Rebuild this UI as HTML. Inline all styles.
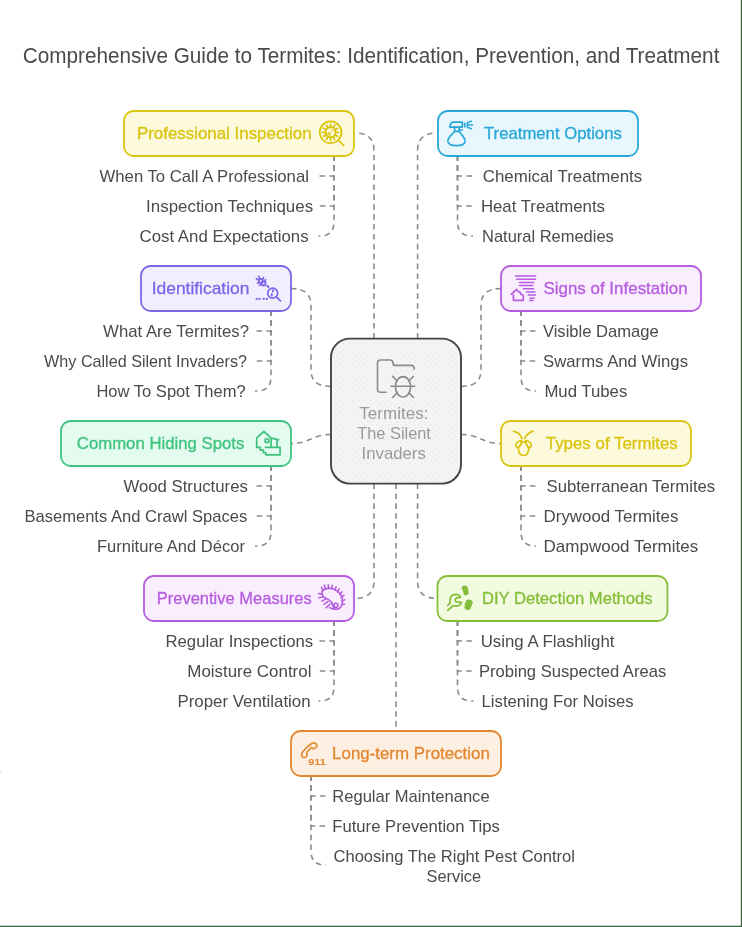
<!DOCTYPE html><html><head><meta charset="utf-8"><style>html,body{margin:0;padding:0;background:#fff;overflow:hidden;width:742px;height:927px;}svg{display:block;will-change:transform;}</style></head><body>
<svg width="742" height="927" viewBox="0 0 742 927" font-family='"Liberation Sans", sans-serif'>
<defs><pattern id="dots" x="0" y="0" width="6" height="6" patternUnits="userSpaceOnUse"><rect width="6" height="6" fill="#f4f4f4"/><circle cx="1.5" cy="1.5" r="0.5" fill="#dedede"/><circle cx="4.5" cy="4.5" r="0.5" fill="#dedede"/></pattern></defs>
<rect x="0" y="0" width="742" height="927" fill="#ffffff"/>
<rect x="740.8" y="0" width="1.2" height="927" fill="#3b6a45"/>
<rect x="0" y="925.7" width="742" height="1.3" fill="#3b6a45"/>
<rect x="0" y="771.8" width="1.1" height="1.4" fill="#cfcfcf"/>
<text x="22.80" y="62.90" textLength="696.60" lengthAdjust="spacingAndGlyphs" font-size="21.8" fill="#4a4a4a" font-weight="normal" >Comprehensive Guide to Termites: Identification, Prevention, and Treatment</text>
<g fill="none" stroke="#8c8c8c" stroke-width="1.6" stroke-dasharray="5.6 4.3">
<path d="M374,338.5 V150 Q374,133 354.5,133"/>
<path d="M417.6,338.5 V150 Q417.6,133 437.5,133"/>
<path d="M331,386.5 Q311,386.5 311,370 V305 Q311,288.5 291,288.5"/>
<path d="M461,386.5 Q481,386.5 481,370 V305 Q481,288.5 501,288.5"/>
<path d="M331,434.5 C311,434.5 311,443.5 291,443.5"/>
<path d="M461,434.5 C481,434.5 481,443.5 501,443.5"/>
<path d="M374,483.5 V581 Q374,598.5 354.5,598.5"/>
<path d="M417.6,483.5 V581 Q417.6,598.5 437.5,598.5"/>
<path d="M396,483.5 V731"/>
<path d="M334,155.2 V176 H318.5"/>
<path d="M334,155.2 V206 H318.5"/>
<path d="M334,155.2 V222 Q334,236 320,236 H318.5"/>
<path d="M457.5,155.2 V176 H473"/>
<path d="M457.5,155.2 V206 H473"/>
<path d="M457.5,155.2 V222 Q457.5,236 471.5,236 H473"/>
<path d="M271,310.2 V331 H255"/>
<path d="M271,310.2 V361 H255"/>
<path d="M271,310.2 V377 Q271,391 257,391 H255"/>
<path d="M521,310.2 V331 H536"/>
<path d="M521,310.2 V361 H536"/>
<path d="M521,310.2 V377 Q521,391 535,391 H536"/>
<path d="M271,465.2 V486 H255"/>
<path d="M271,465.2 V516 H255"/>
<path d="M271,465.2 V532 Q271,546 257,546 H255"/>
<path d="M521,465.2 V486 H536"/>
<path d="M521,465.2 V516 H536"/>
<path d="M521,465.2 V532 Q521,546 535,546 H536"/>
<path d="M334,620.2 V641 H318.5"/>
<path d="M334,620.2 V671 H318.5"/>
<path d="M334,620.2 V687 Q334,701 320,701 H318.5"/>
<path d="M457.5,620.2 V641 H473.5"/>
<path d="M457.5,620.2 V671 H473.5"/>
<path d="M457.5,620.2 V687 Q457.5,701 471.5,701 H473.5"/>
<path d="M311,775.2 V796 H326"/>
<path d="M311,775.2 V826 H326"/>
<path d="M311,775.2 V851 Q311,865 325,865 H326"/>
</g>
<rect x="331" y="338.6" width="130" height="145" rx="19" ry="19" fill="url(#dots)" stroke="#444444" stroke-width="1.9"/>
<g fill="none" stroke="#8c8c8c" stroke-width="1.6" stroke-linecap="round" stroke-linejoin="round"><path d="M386.2,392.2 H380.5 Q377.5,392.2 377.5,389.2 V363 Q377.5,360 380.5,360 H390 Q392.5,360 393,362.5 L393.5,365.4 H411 Q414.1,365.4 414.1,368.5 V369.3"/><ellipse cx="403" cy="386.8" rx="7.6" ry="10.2"/><path d="M391,386.2 H414.8 M392.6,376.4 L397.3,381.2 M413.4,376.4 L408.7,381.2 M392.6,397.5 L397.3,392.6 M413.4,397.5 L408.7,392.6"/></g>
<text x="359.30" y="418.90" textLength="69.10" lengthAdjust="spacingAndGlyphs" font-size="17.0" fill="#9a9a9a" font-weight="normal" >Termites:</text>
<text x="357.30" y="438.90" textLength="73.60" lengthAdjust="spacingAndGlyphs" font-size="17.0" fill="#9a9a9a" font-weight="normal" >The Silent</text>
<text x="361.60" y="459.00" textLength="64.20" lengthAdjust="spacingAndGlyphs" font-size="17.0" fill="#9a9a9a" font-weight="normal" >Invaders</text>
<rect x="124" y="111" width="230" height="45" rx="9.5" ry="9.5" fill="#fdf9dc" stroke="#d9c40f" stroke-width="1.8"/>
<text x="136.90" y="138.80" textLength="174.70" lengthAdjust="spacingAndGlyphs" font-size="17.0" fill="#d9c40f" font-weight="normal" stroke="#d9c40f" stroke-width="0.3">Professional Inspection</text>
<g fill="none" stroke="#d9c40f" color="#d9c40f" stroke-width="1.7" stroke-linecap="round" stroke-linejoin="round">
<circle cx="330.6" cy="132.3" r="10.9" />
<path d="M338.6,140.4 L343.6,145.4" />
<circle cx="330.6" cy="132.3" r="5" stroke-width="1.9"/>
<path d="M336.10,132.30 L338.70,132.30 M335.36,135.05 L337.61,136.35 M333.35,137.06 L334.65,139.31 M330.60,137.80 L330.60,140.40 M327.85,137.06 L326.55,139.31 M325.84,135.05 L323.59,136.35 M325.10,132.30 L322.50,132.30 M325.84,129.55 L323.59,128.25 M327.85,127.54 L326.55,125.29 M330.60,126.80 L330.60,124.20 M333.35,127.54 L334.65,125.29 M335.36,129.55 L337.61,128.25 " stroke-width="1.8"/>
<circle cx="329.2" cy="133.8" r="1.3" stroke-width="1.2"/>
<circle cx="332.4" cy="130.6" r="0.9" fill="currentColor" stroke="none"/>
</g>
<rect x="438" y="111" width="200" height="45" rx="9.5" ry="9.5" fill="#e8f7fd" stroke="#27a7d8" stroke-width="1.8"/>
<text x="484.00" y="138.80" textLength="137.80" lengthAdjust="spacingAndGlyphs" font-size="17.0" fill="#27a7d8" font-weight="normal" stroke="#27a7d8" stroke-width="0.3">Treatment Options</text>
<g fill="none" stroke="#27a7d8" color="#27a7d8" stroke-width="1.7" stroke-linecap="round" stroke-linejoin="round">
<path d="M449.8,127.1 Q450.5,122.2 453.5,122.2 H462.3 V127.1 Z" />
<path d="M464.7,123.3 V126.7" />
<path d="M467.3,122.8 L471.4,121.1 M467.3,125 H472.5 M467.3,127.2 L471.4,128.7 M467.3,122.8 V127.2" stroke-width="1.5"/>
<path d="M454.6,127.3 V131.3 H459.2 V127.3 M459.2,130 H462.3" />
<path d="M454.6,131.5 L449.8,136.6 Q447.4,139.3 448,142 Q449,145.6 456.5,145.6 Q464,145.6 465,142 Q465.6,139.3 463.2,136.6 L459.2,131.5" />
</g>
<rect x="141" y="266" width="150" height="45" rx="9.5" ry="9.5" fill="#f1eefe" stroke="#7f64e8" stroke-width="1.8"/>
<text x="151.70" y="293.80" textLength="97.70" lengthAdjust="spacingAndGlyphs" font-size="17.0" fill="#7f64e8" font-weight="normal" stroke="#7f64e8" stroke-width="0.3">Identification</text>
<g fill="none" stroke="#7f64e8" color="#7f64e8" stroke-width="1.7" stroke-linecap="round" stroke-linejoin="round">
<circle cx="260.8" cy="280.8" r="2" stroke-width="1.8"/>
<circle cx="263.6" cy="283.5" r="2" stroke-width="1.8"/>
<path d="M258.9,276.4 L259.7,278.6 M263.6,277.6 L262.7,279.2 M256.4,278.7 L258.6,279.9 M265.6,279.7 L264.8,281.4 M257.5,283.2 L259.1,282.4 M259.6,285.3 L261.3,284.4" stroke-width="1.7"/>
<path d="M267.2,285.8 L268.4,287" stroke-width="1.9"/>
<circle cx="272.7" cy="293.1" r="5" />
<path d="M276.4,296.8 L280.5,300.8" />
<path d="M272.9,290.2 V291.6 M271.8,294 V295.4" stroke-width="1.8"/>
<g fill="currentColor" stroke="none"><rect x="255.7" y="297.9" width="2" height="2"/><rect x="258.5" y="297.9" width="2" height="2"/><rect x="262.7" y="297.9" width="2" height="2"/><rect x="265.8" y="297.9" width="2" height="2"/></g>
</g>
<rect x="501" y="266" width="200" height="45" rx="9.5" ry="9.5" fill="#f9eefd" stroke="#b75ce0" stroke-width="1.8"/>
<text x="543.40" y="293.80" textLength="144.20" lengthAdjust="spacingAndGlyphs" font-size="17.0" fill="#b75ce0" font-weight="normal" stroke="#b75ce0" stroke-width="0.3">Signs of Infestation</text>
<g fill="none" stroke="#b75ce0" color="#b75ce0" stroke-width="1.7" stroke-linecap="round" stroke-linejoin="round">
<path d="M515.5,276.1 H535.6 M516.6,279.3 H535.6 M519.5,282.5 H533.8 M519.5,285.6 H532.8 M523.4,288.8 H533.6 M526.6,291.9 H535 M528.4,295 H535.6 M530,298.2 H534.3 M529.8,300.4 H532.8" stroke-width="1.5"/>
<path d="M511.3,294.1 L516.5,289.5 L518.5,291.6 Q520.5,291.5 520.5,294 L522.2,294.6 Q523.3,295 523.3,296.5 V300.3 H513.4 V294.8" />
</g>
<rect x="61" y="421" width="230" height="45" rx="9.5" ry="9.5" fill="#e4fbef" stroke="#3ec37e" stroke-width="1.8"/>
<text x="76.80" y="448.80" textLength="167.60" lengthAdjust="spacingAndGlyphs" font-size="17.0" fill="#3ec37e" font-weight="normal" stroke="#3ec37e" stroke-width="0.3">Common Hiding Spots</text>
<g fill="none" stroke="#3ec37e" color="#3ec37e" stroke-width="1.7" stroke-linecap="round" stroke-linejoin="round">
<path d="M256.7,447.3 V437.9 L263.9,431.5 L270.9,437.9 L278.7,439.9 M271.1,437.9 V447.2 M277,439.9 V447.2" />
<path d="M256.7,447.3 H260.3 V450.1 H263.4 V452.7 H265.9 V454.8 H280.1 V447.3 H265.4" />
<rect x="265.2" y="439" width="3.5" height="3.3" />
</g>
<rect x="501" y="421" width="190" height="45" rx="9.5" ry="9.5" fill="#fdf9dc" stroke="#d9c40f" stroke-width="1.8"/>
<text x="545.80" y="448.80" textLength="131.90" lengthAdjust="spacingAndGlyphs" font-size="17.0" fill="#d9c40f" font-weight="normal" stroke="#d9c40f" stroke-width="0.3">Types of Termites</text>
<g fill="none" stroke="#d9c40f" color="#d9c40f" stroke-width="1.7" stroke-linecap="round" stroke-linejoin="round">
<path d="M513.5,431.3 Q519.5,432 522,438.5 M533.2,431.1 Q527.5,432.5 524.7,438.5" />
<path d="M521.6,440.5 Q516.5,441 515.8,445.5 Q516,447.5 518.2,447.8 Q521.5,445 521.6,440.5 Z" />
<path d="M525.5,440.5 Q530.6,441 531.3,445.5 Q531.1,447.5 528.9,447.8 Q525.6,445 525.5,440.5 Z" />
<path d="M521.6,442.2 H525.5 M518.4,447.5 Q518.2,455.5 523.5,455.5 Q528.8,455.5 528.7,447.5" />
</g>
<rect x="144" y="576" width="210" height="45" rx="9.5" ry="9.5" fill="#f9eefd" stroke="#b75ce0" stroke-width="1.8"/>
<text x="156.70" y="603.80" textLength="155.10" lengthAdjust="spacingAndGlyphs" font-size="17.0" fill="#b75ce0" font-weight="normal" stroke="#b75ce0" stroke-width="0.3">Preventive Measures</text>
<g fill="none" stroke="#b75ce0" color="#b75ce0" stroke-width="1.7" stroke-linecap="round" stroke-linejoin="round">
<path d="M322.2,590.6 Q326,587.6 331,588.2 Q337.5,589.5 341,595 Q343.6,600.5 341.6,605.6 Q340,609.3 335.5,609.3 Q331.5,609 329.5,607.6" stroke-width="1.6"/>
<path d="M322.2,590.6 Q321.6,594.2 323.2,596.3 Q325,598.2 328.6,599.6 Q331.8,601.5 332.6,605 Q333.2,607.6 335,608.8" stroke-width="1.6"/>
<circle cx="335.9" cy="605.3" r="2" stroke-width="1.6"/>
<path d="M321.51,587.06 L323.17,590.66 M324.38,585.09 L325.74,589.43 M328.16,584.62 L328.76,588.82 M332.31,585.29 L331.85,589.19 M336.08,586.76 L334.88,590.36 M339.19,588.83 L337.53,592.13 M342.06,591.77 L339.66,594.47 M343.97,595.41 L341.11,597.51 M344.80,599.72 L341.80,600.92 M344.66,604.13 L341.82,604.43 M318.39,593.46 L322.29,594.06 M318.82,597.81 L323.02,596.91 M321.96,601.19 L325.56,599.09 M324.09,604.30 L327.99,601.30 M325.99,607.84 L329.89,604.24" stroke-width="1.5"/>
</g>
<rect x="437.5" y="576" width="230.0" height="45" rx="9.5" ry="9.5" fill="#f2fbe0" stroke="#85be3a" stroke-width="1.8"/>
<text x="481.90" y="603.80" textLength="170.80" lengthAdjust="spacingAndGlyphs" font-size="17.0" fill="#85be3a" font-weight="normal" stroke="#85be3a" stroke-width="0.3">DIY Detection Methods</text>
<g fill="none" stroke="#85be3a" color="#85be3a" stroke-width="1.7" stroke-linecap="round" stroke-linejoin="round">
<path d="M447.7,605.5 L450.3,602.7 C449.2,598 451,594.5 455.4,594.4 C458,594.4 460,595.5 460.3,597.3 L456.8,597.9 C454.8,598.5 454.6,601.5 456.5,601.9 L461.3,602.4 C460.5,605 457.5,606.2 454.5,605.8 L453.3,605.5 L447.7,610.4" stroke-width="1.8"/>
<g fill="currentColor" stroke="none">
<path d="M462.2,586.3 L465.5,585.4 L467.4,586.5 L467.6,588 L468.3,589.2 L468.1,590.8 L468.8,592 L468.4,594.2 L466,595.6 L463.8,594.6 L463.5,593 L462.8,591.8 L462.9,590.3 L461.6,589 Z"/>
<path d="M466.4,600 L469.2,599.6 L471.8,600.6 L472.9,602.6 L472,604.3 L471.6,606 L470.6,607.5 L470.2,609.3 L467.3,610.3 L465,609 L464.3,606.8 L465,605.3 L464.7,603.6 L465.6,602.2 Z"/>
</g>
</g>
<rect x="291" y="731" width="210" height="45" rx="9.5" ry="9.5" fill="#fdefe2" stroke="#e3872f" stroke-width="1.8"/>
<text x="332.10" y="758.80" textLength="157.70" lengthAdjust="spacingAndGlyphs" font-size="17.0" fill="#e3872f" font-weight="normal" stroke="#e3872f" stroke-width="0.3">Long-term Protection</text>
<g fill="none" stroke="#e3872f" color="#e3872f" stroke-width="1.7" stroke-linecap="round" stroke-linejoin="round">
<path d="M302.3,756.9 Q300.6,754.8 302.3,752.5 Q306.8,746.2 312.8,743 Q314.3,742.3 315.4,743.3 L316.8,744.9 Q317.4,745.9 316.4,746.9 L314.6,748.4 Q313.5,749.1 312.5,748.3 L311.6,747.4 L307.3,751.8 Q306.6,752.6 306.9,753.6 L307,754.8 Q307.1,756 305.9,756.9 L304.8,757.6 Q303.5,758.1 302.3,756.9 Z" stroke-width="1.6"/>
<text x="308.3" y="764.5" font-size="9.7" font-weight="bold" fill="currentColor" stroke="none" textLength="17.6" lengthAdjust="spacingAndGlyphs">911</text>
</g>
<text x="99.60" y="181.90" textLength="209.30" lengthAdjust="spacingAndGlyphs" font-size="16.6" fill="#4a4a4a" font-weight="normal" >When To Call A Professional</text>
<text x="146.10" y="211.90" textLength="167.00" lengthAdjust="spacingAndGlyphs" font-size="16.6" fill="#4a4a4a" font-weight="normal" >Inspection Techniques</text>
<text x="139.60" y="241.90" textLength="169.00" lengthAdjust="spacingAndGlyphs" font-size="16.6" fill="#4a4a4a" font-weight="normal" >Cost And Expectations</text>
<text x="482.80" y="181.90" textLength="159.40" lengthAdjust="spacingAndGlyphs" font-size="16.6" fill="#4a4a4a" font-weight="normal" >Chemical Treatments</text>
<text x="480.90" y="211.90" textLength="124.10" lengthAdjust="spacingAndGlyphs" font-size="16.6" fill="#4a4a4a" font-weight="normal" >Heat Treatments</text>
<text x="482.00" y="241.90" textLength="131.80" lengthAdjust="spacingAndGlyphs" font-size="16.6" fill="#4a4a4a" font-weight="normal" >Natural Remedies</text>
<text x="103.10" y="336.90" textLength="145.90" lengthAdjust="spacingAndGlyphs" font-size="16.6" fill="#4a4a4a" font-weight="normal" >What Are Termites?</text>
<text x="44.10" y="366.90" textLength="202.90" lengthAdjust="spacingAndGlyphs" font-size="16.6" fill="#4a4a4a" font-weight="normal" >Why Called Silent Invaders?</text>
<text x="96.40" y="396.90" textLength="149.30" lengthAdjust="spacingAndGlyphs" font-size="16.6" fill="#4a4a4a" font-weight="normal" >How To Spot Them?</text>
<text x="542.90" y="336.90" textLength="115.90" lengthAdjust="spacingAndGlyphs" font-size="16.6" fill="#4a4a4a" font-weight="normal" >Visible Damage</text>
<text x="543.10" y="366.90" textLength="144.90" lengthAdjust="spacingAndGlyphs" font-size="16.6" fill="#4a4a4a" font-weight="normal" >Swarms And Wings</text>
<text x="544.40" y="396.90" textLength="82.90" lengthAdjust="spacingAndGlyphs" font-size="16.6" fill="#4a4a4a" font-weight="normal" >Mud Tubes</text>
<text x="123.50" y="491.90" textLength="124.30" lengthAdjust="spacingAndGlyphs" font-size="16.6" fill="#4a4a4a" font-weight="normal" >Wood Structures</text>
<text x="24.40" y="521.90" textLength="222.80" lengthAdjust="spacingAndGlyphs" font-size="16.6" fill="#4a4a4a" font-weight="normal" >Basements And Crawl Spaces</text>
<text x="96.90" y="551.90" textLength="148.10" lengthAdjust="spacingAndGlyphs" font-size="16.6" fill="#4a4a4a" font-weight="normal" >Furniture And Décor</text>
<text x="546.50" y="491.90" textLength="168.70" lengthAdjust="spacingAndGlyphs" font-size="16.6" fill="#4a4a4a" font-weight="normal" >Subterranean Termites</text>
<text x="543.60" y="521.90" textLength="134.80" lengthAdjust="spacingAndGlyphs" font-size="16.6" fill="#4a4a4a" font-weight="normal" >Drywood Termites</text>
<text x="543.60" y="551.90" textLength="154.60" lengthAdjust="spacingAndGlyphs" font-size="16.6" fill="#4a4a4a" font-weight="normal" >Dampwood Termites</text>
<text x="165.50" y="646.90" textLength="147.70" lengthAdjust="spacingAndGlyphs" font-size="16.6" fill="#4a4a4a" font-weight="normal" >Regular Inspections</text>
<text x="187.30" y="676.90" textLength="124.10" lengthAdjust="spacingAndGlyphs" font-size="16.6" fill="#4a4a4a" font-weight="normal" >Moisture Control</text>
<text x="177.50" y="706.90" textLength="133.10" lengthAdjust="spacingAndGlyphs" font-size="16.6" fill="#4a4a4a" font-weight="normal" >Proper Ventilation</text>
<text x="480.70" y="646.90" textLength="133.80" lengthAdjust="spacingAndGlyphs" font-size="16.6" fill="#4a4a4a" font-weight="normal" >Using A Flashlight</text>
<text x="478.90" y="676.90" textLength="187.30" lengthAdjust="spacingAndGlyphs" font-size="16.6" fill="#4a4a4a" font-weight="normal" >Probing Suspected Areas</text>
<text x="481.60" y="706.90" textLength="152.10" lengthAdjust="spacingAndGlyphs" font-size="16.6" fill="#4a4a4a" font-weight="normal" >Listening For Noises</text>
<text x="332.30" y="801.90" textLength="157.30" lengthAdjust="spacingAndGlyphs" font-size="16.6" fill="#4a4a4a" font-weight="normal" >Regular Maintenance</text>
<text x="332.30" y="831.90" textLength="167.50" lengthAdjust="spacingAndGlyphs" font-size="16.6" fill="#4a4a4a" font-weight="normal" >Future Prevention Tips</text>
<text x="333.50" y="861.90" textLength="241.50" lengthAdjust="spacingAndGlyphs" font-size="16.6" fill="#4a4a4a" font-weight="normal" >Choosing The Right Pest Control</text>
<text x="426.50" y="881.60" textLength="54.60" lengthAdjust="spacingAndGlyphs" font-size="16.6" fill="#4a4a4a" font-weight="normal" >Service</text>
</svg></body></html>
